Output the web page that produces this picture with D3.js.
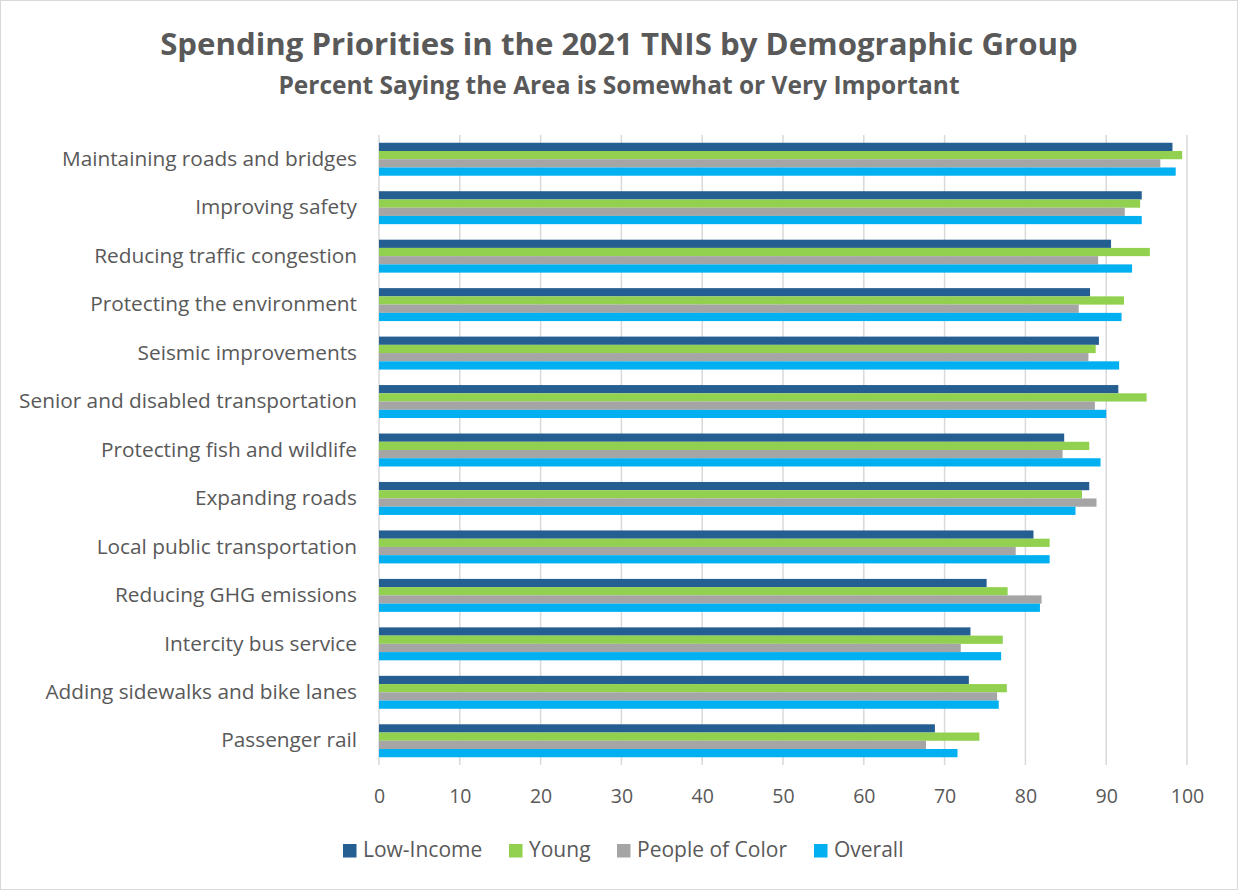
<!DOCTYPE html>
<html>
<head>
<meta charset="utf-8">
<script src="https://cdn.jsdelivr.net/npm/d3@7"></script>
<style>
  body { margin: 0; background: #fff; }
  text { font-family: "Open Sans", sans-serif; }
</style>
</head>
<body>
<div id="chart"></div>
<script>
const width = 1238
const height = 890

// data
const categories = [
  "Maintaining roads and bridges",
  "Improving safety",
  "Reducing traffic congestion",
  "Protecting the environment",
  "Seismic improvements",
  "Senior and disabled transportation",
  "Protecting fish and wildlife",
  "Expanding roads",
  "Local public transportation",
  "Reducing GHG emissions",
  "Intercity bus service",
  "Adding sidewalks and bike lanes",
  "Passenger rail"
]
const seriesNames = ["Low-Income", "Young", "People of Color", "Overall"]
const seriesColors = ["#255e91", "#92d050", "#a5a5a5", "#00b0f0"]

const lowIncome     = [98.2, 94.4, 90.6, 88.0, 89.1, 91.5, 84.8, 87.9, 81.0, 75.2, 73.2, 73.0, 68.8]
const young         = [99.4, 94.2, 95.4, 92.2, 88.7, 95.0, 87.9, 87.0, 83.0, 77.8, 77.2, 77.7, 74.3]
const peopleOfColor = [96.7, 92.3, 89.0, 86.6, 87.8, 88.6, 84.6, 88.8, 78.8, 82.0, 72.0, 76.5, 67.7]
const overall       = [98.6, 94.4, 93.2, 91.9, 91.6, 90.0, 89.3, 86.2, 83.0, 81.8, 77.0, 76.7, 71.6]

const xTicks = [0, 10, 20, 30, 40, 50, 60, 70, 80, 90, 100]

const seriesValues = [lowIncome, young, peopleOfColor, overall]

const margin = {left: 379, right: 51, top: 135, bottom: 125}

const svg = d3.select("#chart").append("svg")
  .attr("width", width)
  .attr("height", height)

// chart border
svg.append("rect")
  .attr("x", 0.5).attr("y", 0.5)
  .attr("width", width - 1).attr("height", height - 1)
  .attr("fill", "#fff")
  .attr("stroke", "#d9d9d9")

const x = d3.scaleLinear()
  .domain([0, 100])
  .range([margin.left, width - margin.right])

const y = d3.scaleBand()
  .domain(categories)
  .range([margin.top, height - margin.bottom])
  .paddingInner(0.32)
  .paddingOuter(0.16)

const ySub = d3.scaleBand()
  .domain(seriesNames)
  .range([0, y.bandwidth()])

// gridlines
svg.append("g")
  .selectAll("line")
  .data(xTicks)
  .join("line")
  .attr("x1", d => x(d)).attr("x2", d => x(d))
  .attr("y1", margin.top).attr("y2", height - margin.bottom)
  .attr("stroke", "#d9d9d9")
  .attr("stroke-width", 1.5)

// bars
const rows = categories.map((c, i) => ({
  cat: c,
  vals: seriesNames.map((s, j) => ({series: s, color: seriesColors[j], value: seriesValues[j][i]}))
}))

svg.append("g")
  .selectAll("g")
  .data(rows)
  .join("g")
  .attr("transform", d => `translate(0,${y(d.cat)})`)
  .selectAll("rect")
  .data(d => d.vals)
  .join("rect")
  .attr("x", x(0))
  .attr("y", d => ySub(d.series))
  .attr("width", d => x(d.value) - x(0))
  .attr("height", ySub.bandwidth())
  .attr("fill", d => d.color)

// category labels
const yAxis = svg.append("g")
  .attr("transform", `translate(${margin.left},0)`)
  .call(d3.axisLeft(y).tickSize(0).tickPadding(22))
yAxis.select(".domain").remove()
yAxis.selectAll("text")
  .attr("font-size", 20.8)
  .attr("font-family", "'Open Sans', sans-serif")
  .attr("fill", "#595959")

// x axis labels
const xAxis = svg.append("g")
  .attr("transform", `translate(0,${height - margin.bottom})`)
  .call(d3.axisBottom(x).tickValues(xTicks).tickSize(0).tickPadding(24))
xAxis.select(".domain").remove()
xAxis.selectAll("text")
  .attr("font-size", 19.5)
  .attr("font-family", "'Open Sans', sans-serif")
  .attr("fill", "#595959")

// titles
svg.append("text")
  .attr("x", 619).attr("y", 55)
  .attr("text-anchor", "middle")
  .attr("font-size", 31.2)
  .attr("font-weight", "bold")
  .attr("fill", "#595959")
  .text("Spending Priorities in the 2021 TNIS by Demographic Group")

svg.append("text")
  .attr("x", 619).attr("y", 94)
  .attr("text-anchor", "middle")
  .attr("font-size", 24.5)
  .attr("font-weight", "bold")
  .attr("fill", "#595959")
  .text("Percent Saying the Area is Somewhat or Very Important")

// legend
const legendX = [343, 509, 617, 814]
const legend = svg.append("g")
  .selectAll("g")
  .data(seriesNames)
  .join("g")
  .attr("transform", (d, i) => `translate(${legendX[i]},844)`)
legend.append("rect")
  .attr("width", 13.5).attr("height", 13.5)
  .attr("fill", (d, i) => seriesColors[i])
legend.append("text")
  .attr("x", 20).attr("y", 13)
  .attr("font-size", 21)
  .attr("fill", "#595959")
  .text(d => d)
</script>
</body>
</html>
